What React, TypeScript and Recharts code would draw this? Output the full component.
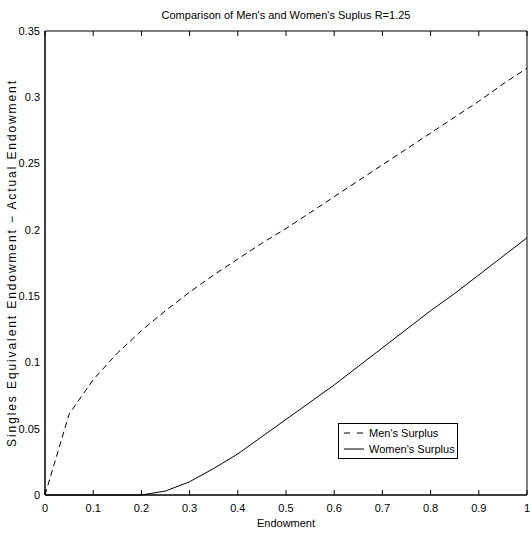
import { LineChart, Line, XAxis, YAxis, Legend, Label } from "recharts";

const endowment = [
  0, 0.05, 0.1, 0.15, 0.2, 0.25, 0.3, 0.35, 0.4, 0.45, 0.5, 0.55, 0.6, 0.65,
  0.7, 0.75, 0.8, 0.85, 0.9, 0.95, 1,
];
const mensSurplus = [
  0, 0.061, 0.087, 0.107, 0.124, 0.139, 0.153, 0.166, 0.178, 0.19, 0.201,
  0.213, 0.225, 0.237, 0.249, 0.261, 0.273, 0.285, 0.297, 0.31, 0.322,
];
const womensSurplus = [
  0, 0, 0, 0, 0, 0.003, 0.01, 0.02, 0.031, 0.044, 0.057, 0.07, 0.083, 0.097,
  0.111, 0.125, 0.139, 0.152, 0.166, 0.18, 0.194,
];
const xTicks = [0, 0.1, 0.2, 0.3, 0.4, 0.5, 0.6, 0.7, 0.8, 0.9, 1];
const yTicks = [0, 0.05, 0.1, 0.15, 0.2, 0.25, 0.3, 0.35];

const data = endowment.map((x, i) => ({
  x,
  men: mensSurplus[i],
  women: womensSurplus[i],
}));

const FONT = "'Liberation Sans', Arial, Helvetica, sans-serif";
const tickStyle = { fontSize: 11, fill: "#000", fontFamily: FONT };
const blank = () => "";

function LegendBox() {
  const row = (dash: string | undefined, text: string) => (
    <div style={{ display: "flex", alignItems: "center", height: 16 }}>
      <svg width={22} height={8} style={{ marginRight: 4 }}>
        <line x1={1} y1={4} x2={21} y2={4} stroke="#000" strokeDasharray={dash} />
      </svg>
      <span>{text}</span>
    </div>
  );
  return (
    <div
      style={{
        border: "1px solid #000",
        background: "#fff",
        width: 114,
        padding: "1px 0 1px 4px",
        fontSize: 11,
        fontFamily: FONT,
        color: "#000",
        lineHeight: "16px",
      }}
    >
      {row("6 7", "Men's Surplus")}
      {row(undefined, "Women's Surplus")}
    </div>
  );
}

export default function App() {
  return (
    <div style={{ position: "absolute", left: 0, top: 0, background: "#fff" }}>
      <LineChart
        width={530}
        height={533}
        data={data}
        margin={{ top: 31, right: 3, bottom: 0, left: 0 }}
      >
        <text
          x={286}
          y={19}
          textAnchor="middle"
          style={{ fontSize: 11, fontFamily: FONT }}
          fill="#000"
        >
          Comparison of Men's and Women's Suplus R=1.25
        </text>
        {/* labelled axes */}
        <XAxis
          xAxisId="b"
          dataKey="x"
          type="number"
          domain={[0, 1]}
          ticks={xTicks}
          height={38}
          tickSize={0}
          tickMargin={9}
          tickLine={false}
          stroke="#000"
          tick={tickStyle}
        >
          <Label
            value="Endowment"
            position="insideBottom"
            offset={6}
            style={{ fontSize: 11, fontFamily: FONT, fill: "#000" }}
          />
        </XAxis>
        <YAxis
          yAxisId="l"
          type="number"
          domain={[0, 0.35]}
          ticks={yTicks}
          width={45}
          tickSize={0}
          tickMargin={5}
          tickLine={false}
          stroke="#000"
          tick={tickStyle}
        >
          <Label
            value="Singles Equivalent Endowment − Actual Endowment"
            angle={-90}
            position="insideLeft"
            offset={12}
            style={{
              fontSize: 12,
              fontFamily: FONT,
              fill: "#000",
              textAnchor: "middle",
              letterSpacing: 1.9,
            }}
          />
        </YAxis>
        {/* inward tick marks on all four sides (box) */}
        <XAxis
          xAxisId="bm"
          orientation="bottom"
          mirror
          dataKey="x"
          type="number"
          domain={[0, 1]}
          ticks={xTicks}
          height={10}
          tickSize={5}
          tickFormatter={blank}
          stroke="#000"
        />
        <XAxis
          xAxisId="t"
          orientation="top"
          mirror
          dataKey="x"
          type="number"
          domain={[0, 1]}
          ticks={xTicks}
          height={10}
          tickSize={5}
          tickFormatter={blank}
          stroke="#000"
        />
        <YAxis
          yAxisId="lm"
          orientation="left"
          mirror
          type="number"
          domain={[0, 0.35]}
          ticks={yTicks}
          width={10}
          tickSize={5}
          tickFormatter={blank}
          stroke="#000"
        />
        <YAxis
          yAxisId="r"
          orientation="right"
          mirror
          type="number"
          domain={[0, 0.35]}
          ticks={yTicks}
          width={10}
          tickSize={5}
          tickFormatter={blank}
          stroke="#000"
        />
        <Line
          xAxisId="b"
          yAxisId="l"
          dataKey="men"
          name="Men's Surplus"
          stroke="#000"
          strokeWidth={1}
          strokeDasharray="6 4"
          dot={false}
          type="linear"
          isAnimationActive={false}
        />
        <Line
          xAxisId="b"
          yAxisId="l"
          dataKey="women"
          name="Women's Surplus"
          stroke="#000"
          strokeWidth={1}
          dot={false}
          type="linear"
          isAnimationActive={false}
        />
        <Legend
          layout="vertical"
          align="center"
          verticalAlign="middle"
          wrapperStyle={{ left: 338, top: 423, width: "auto" }}
          content={() => <LegendBox />}
        />
      </LineChart>
    </div>
  );
}
